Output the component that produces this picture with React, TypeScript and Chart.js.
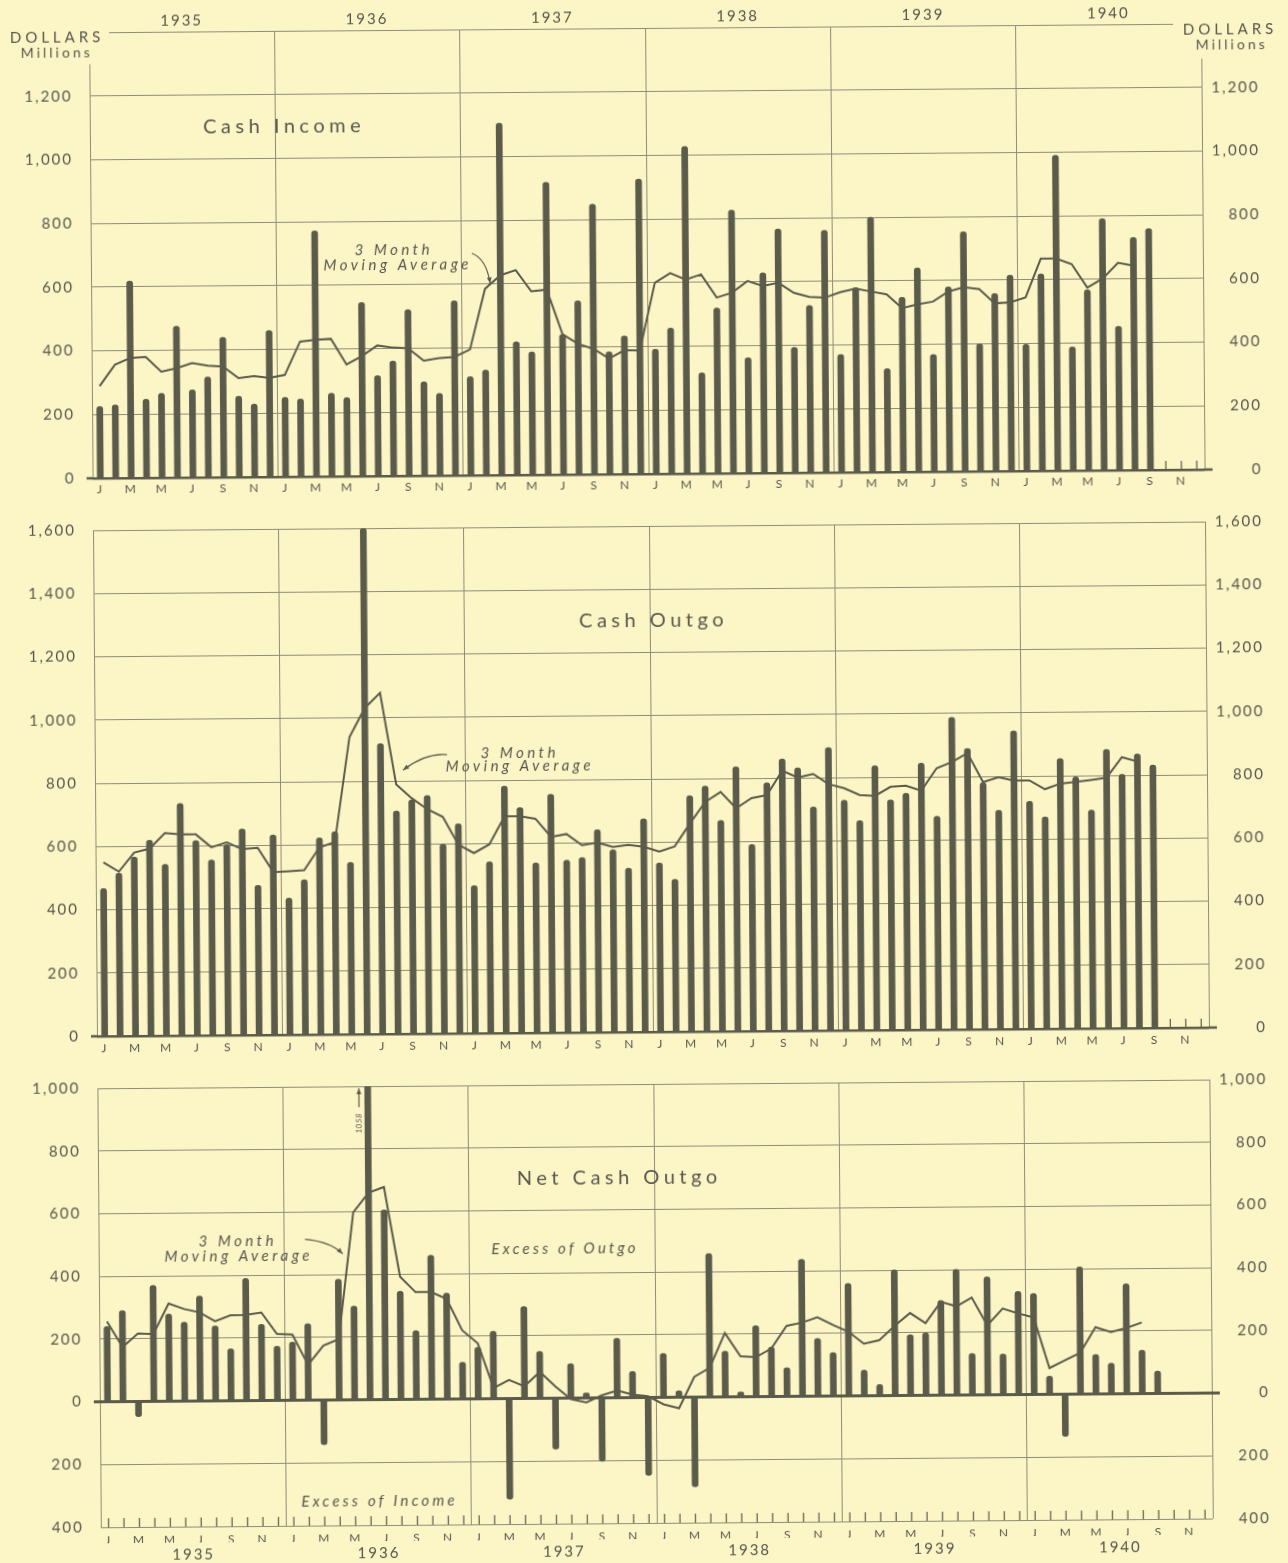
import React, { useEffect, useRef } from 'react';
import { Chart, registerables } from 'chart.js';

Chart.register(...registerables);

const BG = '#fcf5c6';
const INK = '#5b5b4b';
const TEXT = '#57564c';
const GRID = '#8f8d79';
const FONT = 'Lato, "DejaVu Sans", sans-serif';
const ROTATE_DEG = -0.45;

const YEARS = ['1935', '1936', '1937', '1938', '1939', '1940'];
const MONTH_NAMES = ['Jan', 'Feb', 'Mar', 'Apr', 'May', 'Jun', 'Jul', 'Aug', 'Sep', 'Oct', 'Nov', 'Dec'];
const MONTH_LETTERS = ['J', 'F', 'M', 'A', 'M', 'J', 'J', 'A', 'S', 'O', 'N', 'D'];
const MONTHS = YEARS.flatMap((y) => MONTH_NAMES.map((m) => `${m} ${y}`));

// Cash income, $ millions, Jan 1935 - Sep 1940
const INCOME = [
  225, 230, 618, 247, 265, 475, 275, 315, 439, 254, 229, 460,
  249, 244, 771, 261, 247, 545, 315, 361, 522, 295, 258, 548,
  310, 330, 1105, 418, 386, 918, 440, 545, 848, 384, 434, 926,
  391, 457, 1027, 316, 519, 826, 362, 628, 766, 394, 525, 760,
  370, 580, 800, 325, 548, 640, 368, 580, 752, 400, 558, 615,
  398, 618, 990, 388, 567, 790, 452, 730, 758,
];
// 3 month moving average of cash income, Jan 1935 - Aug 1940
const INCOME_AVG = [
  289, 356, 377, 380, 333, 344, 359, 351, 348, 311, 317, 311,
  320, 424, 429, 432, 351, 377, 410, 403, 400, 361, 369, 372,
  395, 585, 627, 643, 576, 581, 441, 410, 394, 363, 389, 388,
  600, 630, 609, 625, 552, 567, 603, 587, 597, 565, 552, 549,
  566, 577, 567, 558, 514, 526, 534, 565, 578, 572, 527, 530,
  545, 666, 666, 648, 574, 602, 651, 642,
];
// Cash outgo
const OUTGO = [
  467, 515, 566, 619, 542, 734, 616, 555, 603, 652, 473, 632,
  432, 490, 622, 641, 544, 1600, 918, 705, 740, 753, 599, 663,
  467, 542, 781, 713, 537, 754, 545, 553, 641, 577, 518, 674,
  534, 482, 746, 776, 667, 836, 590, 785, 860, 831, 707, 895,
  728, 663, 836, 728, 748, 843, 675, 987, 888, 780, 692, 943,
  720, 670, 854, 796, 691, 882, 803, 867, 831,
];
const OUTGO_AVG = [
  550, 520, 580, 592, 641, 636, 636, 595, 610, 588, 592, 515,
  517, 520, 592, 608, 940, 1031, 1079, 789, 745, 710, 685, 597,
  570, 597, 685, 685, 677, 619, 628, 592, 600, 586, 592, 586,
  570, 586, 658, 726, 757, 705, 737, 746, 823, 801, 812, 779,
  766, 744, 741, 769, 772, 756, 827, 846, 874, 782, 797, 786,
  786, 758, 775, 780, 786, 793, 857, 843,
];
// Net cash outgo (negative = excess of income)
const NET = [
  240, 290, -48, 370, 278, 252, 335, 239, 166, 390, 243, 173,
  186, 244, -142, 385, 299, 1058, 605, 345, 219, 459, 338, 117,
  164, 215, -321, 293, 150, -162, 110, 16, -202, 190, 84, -248,
  140, 21, -286, 458, 146, 15, 226, 158, 92, 437, 184, 139,
  359, 82, 36, 401, 194, 199, 302, 401, 132, 376, 130, 329,
  322, 58, -134, 406, 126, 98, 351, 139, 72,
];
const NET_AVG = [
  256, 174, 217, 215, 312, 294, 283, 254, 273, 274, 281, 212,
  210, 113, 174, 194, 598, 660, 678, 392, 342, 342, 320, 219,
  177, 34, 60, 39, 85, 38, -3, -14, 8, 23, 10, 4,
  -22, -35, 65, 93, 204, 129, 126, 153, 225, 235, 252, 227,
  205, 166, 177, 223, 263, 230, 298, 283, 311, 222, 275, 259,
  246, 84, 108, 132, 213, 197, 210, 227,
];

const fill = (a: number[]) => MONTHS.map((_, i) => (i < a.length ? a[i] : null));

type Note = { text: string; m: number; v: number; size: number; italic?: boolean; spacing: number; rotate?: boolean };
type Arrow = { from: [number, number]; ctrl?: [number, number]; to: [number, number] };
type Fixed = { text: string; x: number; y: number; size: number; spacing: number };
type Knock = { x: number; y: number; w: number; h: number };
type Panel = {
  top: number; height: number; padTop: number;
  min: number; max: number; step: number;
  monthAxis: number; monthPad: number;
  years?: 'top' | 'bottom'; yearAxis?: number; yearPad?: number;
  bars: (number | null)[]; avg: (number | null)[];
  zeroWidth: number; tickFrom: 'zero' | 'min'; hideMax?: boolean;
  notes: Note[]; arrows: Arrow[]; fixed: Fixed[]; knock: Knock[];
};

const PANELS: Panel[] = [
  {
    top: 0, height: 500, padTop: 0, min: 0, max: 1400, step: 200,
    monthAxis: 23, monthPad: 4, years: 'top', yearAxis: 28, yearPad: 2,
    bars: fill(INCOME), avg: fill(INCOME_AVG), zeroWidth: 2.5, tickFrom: 'zero', hideMax: true,
    notes: [
      { text: 'Cash Income', m: 12.43, v: 1100, size: 20, spacing: 4.5 },
      { text: '3 Month', m: 19.5, v: 708, size: 15, italic: true, spacing: 3.5 },
      { text: 'Moving Average', m: 19.75, v: 661, size: 15, italic: true, spacing: 3.5 },
    ],
    arrows: [{ from: [24.67, 697], ctrl: [25.6, 680], to: [25.84, 602] }],
    fixed: [
      { text: 'DOLLARS', x: 61, y: 33.5, size: 15, spacing: 4 },
      { text: 'Millions', x: 61, y: 48.7, size: 14, spacing: 3 },
      { text: 'DOLLARS', x: 1234, y: 34.6, size: 15, spacing: 4 },
      { text: 'Millions', x: 1236, y: 49.6, size: 14, spacing: 3 },
    ],
    knock: [
      { x: 0, y: 0, w: 115, h: 60 },
      { x: 1179, y: 0, w: 109, h: 63 },
    ],
  },
  {
    top: 500, height: 558, padTop: 13, min: 0, max: 1600, step: 200,
    monthAxis: 25, monthPad: 5,
    bars: fill(OUTGO), avg: fill(OUTGO_AVG), zeroWidth: 2.5, tickFrom: 'zero',
    notes: [
      { text: 'Cash Outgo', m: 36.1, v: 1301, size: 20, spacing: 4.5 },
      { text: '3 Month', m: 27.4, v: 886, size: 15, italic: true, spacing: 3.5 },
      { text: 'Moving Average', m: 27.4, v: 843, size: 15, italic: true, spacing: 3.5 },
    ],
    arrows: [{ from: [22.8, 882], ctrl: [21.4, 888], to: [19.95, 834] }],
    fixed: [], knock: [],
  },
  {
    top: 1058, height: 505, padTop: 13, min: -400, max: 1000, step: 200,
    monthAxis: 16, monthPad: 6, years: 'bottom', yearAxis: 24, yearPad: 3,
    bars: fill(NET), avg: fill(NET_AVG), zeroWidth: 3, tickFrom: 'min',
    notes: [
      { text: 'Net Cash Outgo', m: 33.6, v: 703, size: 20, spacing: 4.5 },
      { text: 'Excess of Outgo', m: 30.1, v: 476, size: 15, italic: true, spacing: 3.2 },
      { text: 'Excess of Income', m: 17.96, v: -325, size: 15, italic: true, spacing: 3.2 },
      { text: '3 Month', m: 8.9, v: 508, size: 15, italic: true, spacing: 3.5 },
      { text: 'Moving Average', m: 8.95, v: 459, size: 15, italic: true, spacing: 3.5 },
      { text: '1058', m: 16.92, v: 881, size: 8, italic: true, spacing: 0.5, rotate: true },
    ],
    arrows: [
      { from: [13.37, 513], ctrl: [15.0, 505], to: [15.8, 466] },
      { from: [16.93, 933], to: [16.93, 994] },
    ],
    fixed: [], knock: [],
  },
];

function makePlugin(p: Panel) {
  return {
    id: 'decor',
    beforeDraw(chart: any) {
      chart.ctx.letterSpacing = '2px';
    },
    beforeDatasetsDraw(chart: any) {
      const { ctx, scales } = chart;
      const xs = scales.x;
      const ys = scales.y;
      const base = ys.getPixelForValue(p.tickFrom === 'zero' ? 0 : p.min);
      const zero = ys.getPixelForValue(0);
      ctx.save();
      // zero line runs a little past both axes, as drawn on the original
      ctx.strokeStyle = INK;
      ctx.lineWidth = p.zeroWidth;
      ctx.beginPath();
      ctx.moveTo(xs.left - 6, zero);
      ctx.lineTo(xs.left, zero);
      ctx.moveTo(xs.right, zero);
      ctx.lineTo(xs.right + 8, zero);
      ctx.stroke();
      ctx.lineWidth = 1.2;
      for (let i = 0; i < MONTHS.length; i++) {
        const x = xs.getPixelForValue(i);
        ctx.beginPath();
        ctx.moveTo(x, base);
        ctx.lineTo(x, base - 9);
        ctx.stroke();
      }
      ctx.restore();
    },
    afterDraw(chart: any) {
      const { ctx, scales } = chart;
      const xs = scales.x;
      const ys = scales.y;
      const px = (m: number) => xs.left + (m * xs.width) / MONTHS.length;
      const py = (v: number) => ys.getPixelForValue(v);
      ctx.save();
      ctx.fillStyle = BG;
      p.knock.forEach((k) => ctx.fillRect(k.x, k.y, k.w, k.h));
      ctx.fillStyle = TEXT;
      ctx.textBaseline = 'middle';
      ctx.textAlign = 'center';
      p.fixed.forEach((f) => {
        ctx.font = `${f.size}px ${FONT}`;
        ctx.letterSpacing = `${f.spacing}px`;
        ctx.fillText(f.text, f.x + f.spacing / 2, f.y);
      });
      p.notes.forEach((n) => {
        ctx.font = `${n.italic ? 'italic ' : ''}${n.size}px ${FONT}`;
        ctx.letterSpacing = `${n.spacing}px`;
        const x = px(n.m);
        const y = py(n.v);
        if (n.rotate) {
          ctx.save();
          ctx.translate(x, y);
          ctx.rotate(-Math.PI / 2);
          ctx.fillText(n.text, n.spacing / 2, 0);
          ctx.restore();
        } else {
          ctx.fillText(n.text, x + n.spacing / 2, y);
        }
      });
      ctx.strokeStyle = INK;
      ctx.fillStyle = INK;
      ctx.lineWidth = 1.2;
      p.arrows.forEach((a) => {
        const x0 = px(a.from[0]);
        const y0 = py(a.from[1]);
        const x1 = px(a.to[0]);
        const y1 = py(a.to[1]);
        let cx = x0;
        let cy = y0;
        ctx.beginPath();
        ctx.moveTo(x0, y0);
        if (a.ctrl) {
          cx = px(a.ctrl[0]);
          cy = py(a.ctrl[1]);
          ctx.quadraticCurveTo(cx, cy, x1, y1);
        } else {
          ctx.lineTo(x1, y1);
        }
        ctx.stroke();
        const ang = Math.atan2(y1 - cy, x1 - cx);
        const L = 6;
        const W = 2.4;
        ctx.beginPath();
        ctx.moveTo(x1, y1);
        ctx.lineTo(x1 - L * Math.cos(ang) + W * Math.sin(ang), y1 - L * Math.sin(ang) - W * Math.cos(ang));
        ctx.lineTo(x1 - L * Math.cos(ang) - W * Math.sin(ang), y1 - L * Math.sin(ang) + W * Math.cos(ang));
        ctx.closePath();
        ctx.fill();
      });
      ctx.restore();
      ctx.letterSpacing = '0px';
    },
  };
}

function buildConfig(p: Panel): any {
  const tickFont = { family: FONT, size: 15 };
  const yTicks = {
    stepSize: p.step,
    color: TEXT,
    font: tickFont,
    callback: (v: any) => (p.hideMax && Number(v) === p.max ? '' : Math.abs(Number(v)).toLocaleString('en-US')),
  };
  const scales: any = {
    x: {
      type: 'category',
      position: 'bottom',
      weight: 0,
      offset: true,
      grid: {
        offset: true,
        drawTicks: false,
        lineWidth: 1,
        color: (c: any) => (c.type === 'scale' || c.index % 12 === 0 ? GRID : 'rgba(0,0,0,0)'),
      },
      border: { display: false },
      ticks: {
        autoSkip: false,
        maxRotation: 0,
        minRotation: 0,
        padding: p.monthPad,
        color: TEXT,
        font: { family: FONT, size: 12 },
        callback: (_v: any, i: number) => (i % 2 === 0 ? MONTH_LETTERS[i % 12] : ''),
      },
      afterFit: (s: any) => {
        s.height = p.monthAxis;
      },
    },
    y: {
      type: 'linear',
      position: 'left',
      min: p.min,
      max: p.max,
      ticks: { ...yTicks, padding: 17 },
      grid: {
        drawTicks: false,
        color: (c: any) => (c.tick && c.tick.value === 0 ? INK : GRID),
        lineWidth: (c: any) => (c.tick && c.tick.value === 0 ? p.zeroWidth : 1),
      },
      border: { display: false },
      afterFit: (s: any) => {
        s.width = 95;
      },
    },
    yR: {
      type: 'linear',
      position: 'right',
      min: p.min,
      max: p.max,
      ticks: { ...yTicks, padding: 0, crossAlign: 'far' },
      grid: { display: false, drawTicks: false },
      border: { display: false },
      afterFit: (s: any) => {
        s.width = 58;
      },
    },
  };
  if (p.years) {
    scales.xYears = {
      type: 'linear',
      position: p.years,
      weight: 1,
      offset: false,
      min: 0,
      max: MONTHS.length,
      afterBuildTicks: (s: any) => {
        s.ticks = YEARS.map((_, i) => ({ value: 6 + 12 * i }));
      },
      ticks: {
        autoSkip: false,
        maxRotation: 0,
        padding: p.yearPad,
        color: TEXT,
        font: tickFont,
        callback: (v: any) => YEARS[Math.round((Number(v) - 6) / 12)] ?? '',
      },
      grid: { display: false, drawTicks: false, offset: false },
      border: { display: false },
      afterFit: (s: any) => {
        s.height = p.yearAxis;
      },
    };
  }
  return {
    type: 'bar',
    data: {
      labels: MONTHS,
      datasets: [
        {
          type: 'line',
          data: p.avg,
          borderColor: INK,
          borderWidth: 2,
          pointRadius: 0,
          tension: 0,
          fill: false,
          spanGaps: false,
          xAxisID: 'x',
          yAxisID: 'y',
          order: 0,
        },
        {
          type: 'bar',
          data: p.bars,
          backgroundColor: INK,
          barThickness: 6,
          borderRadius: 3,
          borderSkipped: 'start',
          xAxisID: 'x',
          yAxisID: 'y',
          order: 1,
        },
      ],
    },
    options: {
      responsive: false,
      animation: false,
      devicePixelRatio: 1,
      events: [],
      layout: { padding: { top: p.padTop, right: 23, left: 0, bottom: 0 } },
      plugins: { legend: { display: false }, tooltip: { enabled: false } },
      scales,
    },
    plugins: [makePlugin(p)],
  };
}

function PanelChart({ p }: { p: Panel }) {
  const ref = useRef<HTMLCanvasElement>(null);
  useEffect(() => {
    const canvas = ref.current;
    if (!canvas) return;
    const chart = new Chart(canvas, buildConfig(p));
    return () => chart.destroy();
  }, [p]);
  return (
    <canvas
      ref={ref}
      width={1288}
      height={p.height}
      style={{ position: 'absolute', left: 0, top: p.top, width: 1288, height: p.height }}
    />
  );
}

export default function App() {
  return (
    <div style={{ position: 'absolute', left: 0, top: 0, width: 1288, height: 1563, background: BG, overflow: 'hidden' }}>
      <div
        style={{
          position: 'absolute',
          left: 0,
          top: 0,
          width: 1288,
          height: 1563,
          transform: `rotate(${ROTATE_DEG}deg)`,
          transformOrigin: '644px 781.5px',
        }}
      >
        {PANELS.map((p, i) => (
          <PanelChart key={i} p={p} />
        ))}
      </div>
    </div>
  );
}
